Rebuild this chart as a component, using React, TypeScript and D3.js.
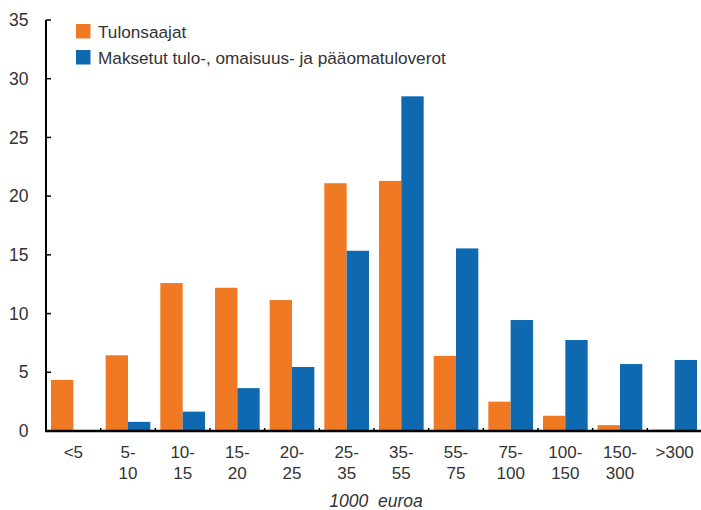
import React from "react";
import * as d3 from "d3";

const categories: string[][] = [
  ["<5"], ["5-", "10"], ["10-", "15"], ["15-", "20"], ["20-", "25"], ["25-", "35"],
  ["35-", "55"], ["55-", "75"], ["75-", "100"], ["100-", "150"], ["150-", "300"], [">300"],
];
const tulonsaajat = [4.35, 6.45, 12.6, 12.2, 11.15, 21.1, 21.3, 6.4, 2.5, 1.3, 0.5, 0.12];
const verot = [0, 0.78, 1.65, 3.65, 5.45, 15.35, 28.5, 15.55, 9.45, 7.75, 5.7, 6.05];
const seriesNames = ["Tulonsaajat", "Maksetut tulo-, omaisuus- ja pääomatuloverot"];
const yTicks = [0, 5, 10, 15, 20, 25, 30, 35];
const xTitle = "1000  euroa";

const colors = ["#F07A24", "#0E69B1"];
const FONT = "'Liberation Sans', Arial, sans-serif";
const TEXT = "#333";

export default function App() {
  const W = 701, H = 510;
  const left = 46, right = 702, top = 20, bottom = 431;
  const x = d3.scaleBand<number>().domain(d3.range(categories.length)).range([left, right]).paddingInner(0).paddingOuter(0);
  const y = d3.scaleLinear().domain([0, 35]).range([bottom, top]);
  const pad = 5;
  const bw = (x.bandwidth() - 2 * pad) / 2;
  const series = [tulonsaajat, verot];

  return (
    <svg width={W} height={H} style={{ position: "absolute", left: 0, top: 0, background: "#fff" }} fontFamily={FONT}>
      {series.map((vals, si) =>
        vals.map((v, i) =>
          v > 0 ? (
            <rect key={`${si}-${i}`} x={(x(i) as number) + pad + si * bw} y={y(v)} width={bw} height={y(0) - y(v)} fill={colors[si]} />
          ) : null
        )
      )}
      {/* y axis */}
      <line x1={left} x2={left} y1={top} y2={bottom + 1} stroke="#000" strokeWidth={2} />
      {yTicks.map((t) => (
        <g key={t}>
          <line x1={left} x2={left + 5} y1={y(t)} y2={y(t)} stroke="#000" strokeWidth={1.5} />
          <text x={28.5} y={y(t)} dy="0.35em" textAnchor="end" fontSize={17.5} fill={TEXT}>{t}</text>
        </g>
      ))}
      {/* x axis */}
      <line x1={left - 1} x2={right} y1={bottom} y2={bottom} stroke="#000" strokeWidth={2.5} />
      {d3.range(1, categories.length).map((i) => (
        <line key={i} x1={x(i) as number} x2={x(i) as number} y1={bottom} y2={bottom - 3} stroke="#000" strokeWidth={1.5} />
      ))}
      {categories.map((lines, i) => (
        <text key={i} x={(x(i) as number) + x.bandwidth() / 2} y={458} textAnchor="middle" fontSize={17} fill={TEXT}>
          {lines.map((l, j) => (
            <tspan key={j} x={(x(i) as number) + x.bandwidth() / 2} dy={j === 0 ? 0 : 21}>{l}</tspan>
          ))}
        </text>
      ))}
      <text x={376} y={507} textAnchor="middle" fontSize={17.5} fontStyle="italic" fill={TEXT} style={{ whiteSpace: "pre" }}>{xTitle}</text>
      {/* legend */}
      {seriesNames.map((n, i) => (
        <g key={n}>
          <rect x={76} y={24 + i * 26} width={14.5} height={14.5} fill={colors[i]} />
          <text x={98} y={31.5 + i * 26} dy="0.35em" fontSize={17.2} fill={TEXT}>{n}</text>
        </g>
      ))}
    </svg>
  );
}
